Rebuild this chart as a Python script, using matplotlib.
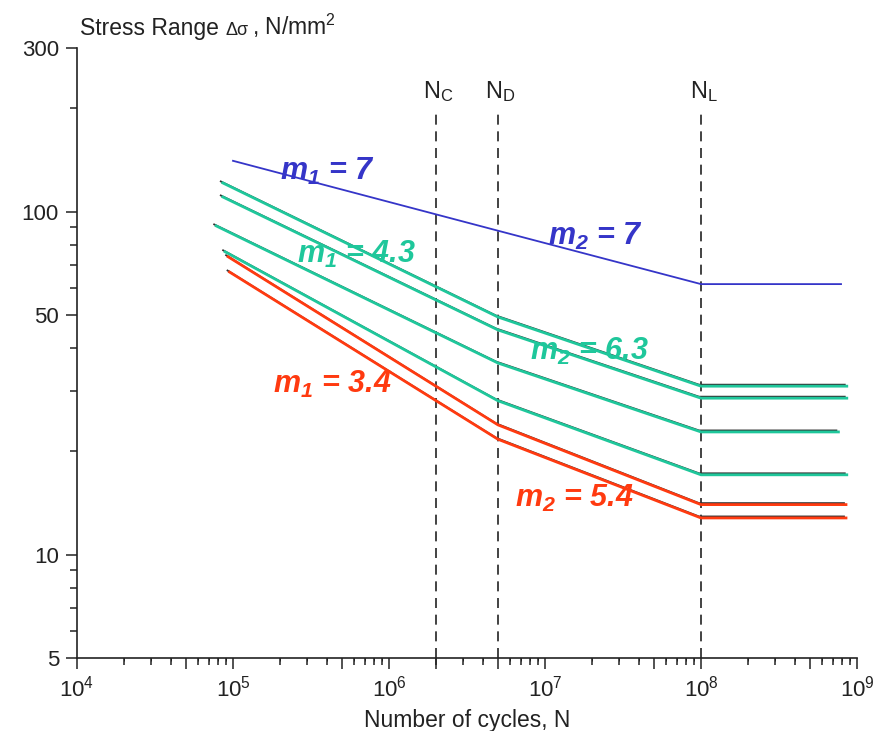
import numpy as np
import matplotlib
matplotlib.use("Agg")
import matplotlib.pyplot as plt
from matplotlib.ticker import FixedLocator, NullFormatter, LogFormatterMathtext
from matplotlib.transforms import offset_copy

plt.rcParams['font.family'] = 'Liberation Sans'
plt.rcParams['mathtext.fontset'] = 'custom'
plt.rcParams['mathtext.rm'] = 'Liberation Sans'
plt.rcParams['mathtext.it'] = 'Liberation Sans:italic'
plt.rcParams['mathtext.bf'] = 'Liberation Sans:italic:bold'

# characteristic cycle numbers
N_C, N_D, N_L = 2e6, 5e6, 1e8
N_MARKS = [N_C, N_D, N_L]
N_MARK_LABELS = [r"$\mathrm{N_C}$", r"$\mathrm{N_D}$", r"$\mathrm{N_L}$"]
DASH_TOP = 198
LABEL_S = 214

# S-N curves: start, knee at N_D, cut-off at N_L, end
START_N = [1.0e5, 8.6e4, 8.6e4, 7.8e4, 8.9e4, 9.3e4, 9.5e4]
END_N = [7.9e8, 8.6e8, 8.6e8, 7.6e8, 8.6e8, 8.5e8, 8.5e8]
S_START = [140.7, 121.3, 110.4, 90.9, 76.4, 73.9, 66.7]
S_KNEE = [88.0, 49.3, 45.2, 36.2, 28.1, 23.9, 21.7]
S_CUT = [61.5, 31.0, 28.6, 22.8, 17.1, 14.0, 12.8]

BLUE, GREEN, RED = "#3535c8", "#1fc79b", "#ff3a10"
CURVE_COLORS = [BLUE, GREEN, GREEN, GREEN, GREEN, RED, RED]

# slope annotations (left end, baseline)
SLOPE_TEXT = [r"$\mathbf{m_1}$ = 7", r"$\mathbf{m_2}$ = 7",
              r"$\mathbf{m_1}$ = 4.3", r"$\mathbf{m_2}$ = 6.3",
              r"$\mathbf{m_1}$ = 3.4", r"$\mathbf{m_2}$ = 5.4"]
SLOPE_N = [2.0e5, 1.04e7, 2.57e5, 8.0e6, 1.8e5, 6.4e6]
SLOPE_S = [123.8, 80.0, 70.9, 37.0, 29.6, 13.8]
SLOPE_COLORS = [BLUE, BLUE, GREEN, GREEN, RED, RED]


fig = plt.figure(figsize=(8.84, 7.31), dpi=100)
ax = fig.add_axes([77 / 884, 73 / 731, 780 / 884, 610 / 731])
ax.set_xscale('log')
ax.set_yscale('log')
ax.set_xlim(1e4, 1e9)
ax.set_ylim(5, 300)

black_tr = offset_copy(ax.transData, fig=fig, x=-2, y=1.5, units='dots')
for i in range(len(S_START)):
    xs = [START_N[i], N_D, N_L, END_N[i]]
    ys = [S_START[i], S_KNEE[i], S_CUT[i], S_CUT[i]]
    if CURVE_COLORS[i] != BLUE:
        ax.plot(xs, ys, color="#333333", lw=1.3, transform=black_tr, zorder=2)
        ax.plot(xs, ys, color=CURVE_COLORS[i], lw=2.0, zorder=3)
    else:
        ax.plot(xs, ys, color=CURVE_COLORS[i], lw=1.3, zorder=3)

for n, lab in zip(N_MARKS, N_MARK_LABELS):
    ax.vlines(n, 5, DASH_TOP, colors="#222222", linestyles=(0, (6, 4)), lw=1.2, zorder=1)
    ax.text(n * 1.04, LABEL_S, lab, fontsize=17, ha='center', va='baseline', color="#222222")

for t, n, s, c in zip(SLOPE_TEXT, SLOPE_N, SLOPE_S, SLOPE_COLORS):
    ax.text(n, s, t, color=c, fontsize=22, fontstyle='italic', fontweight='bold',
            ha='left', va='baseline', zorder=4)

for sp in ('top', 'right'):
    ax.spines[sp].set_visible(False)
for sp in ('left', 'bottom'):
    ax.spines[sp].set_linewidth(1.2)
    ax.spines[sp].set_color("#222222")

ax.yaxis.set_major_locator(FixedLocator([5, 10, 50, 100, 300]))
ax.yaxis.set_minor_locator(FixedLocator([6, 7, 8, 9, 20, 30, 40, 60, 70, 80, 90, 200]))
ax.set_yticklabels(["5", "10", "50", "100", "300"])
ax.yaxis.set_minor_formatter(NullFormatter())
ax.xaxis.set_major_locator(FixedLocator([1e4, 1e5, 1e6, 1e7, 1e8, 1e9]))
ax.xaxis.set_major_formatter(LogFormatterMathtext())
minors = [m * 10 ** k for k in range(4, 9) for m in (2, 3, 4, 6, 7, 8, 9)]
ax.xaxis.set_minor_locator(FixedLocator(minors))
ax.xaxis.set_minor_formatter(NullFormatter())
ax.tick_params(which='major', direction='out', length=8, width=1.1, labelsize=16,
               colors="#222222", pad=5)
ax.tick_params(which='minor', direction='out', length=5, width=1.1, colors="#222222")

# medium ticks at 5x and at N_C
sec = ax.secondary_xaxis('bottom')
sec.set_xticks([5e4, 5e5, N_C, N_D, 5e7, 5e8])
sec.set_xticklabels([])
sec.tick_params(direction='out', length=8, width=1.1, colors="#222222")
sec.spines['bottom'].set_visible(False)

fig.text(80 / 884, 1 - 35 / 731, "Stress Range", fontsize=16.5, va='baseline', color="#222222")
fig.text(225 / 884, 1 - 35 / 731, "Δσ", fontsize=13, va='baseline', color="#222222")
fig.text(252 / 884, 1 - 35 / 731, r", N/mm$^\mathrm{2}$", fontsize=16.5, va='baseline', color="#222222")
fig.text(467 / 884, 1 - 727 / 731, "Number of cycles, N", fontsize=16.5, ha='center',
         va='baseline', color="#222222")

fig.savefig("out.png", dpi=100)
